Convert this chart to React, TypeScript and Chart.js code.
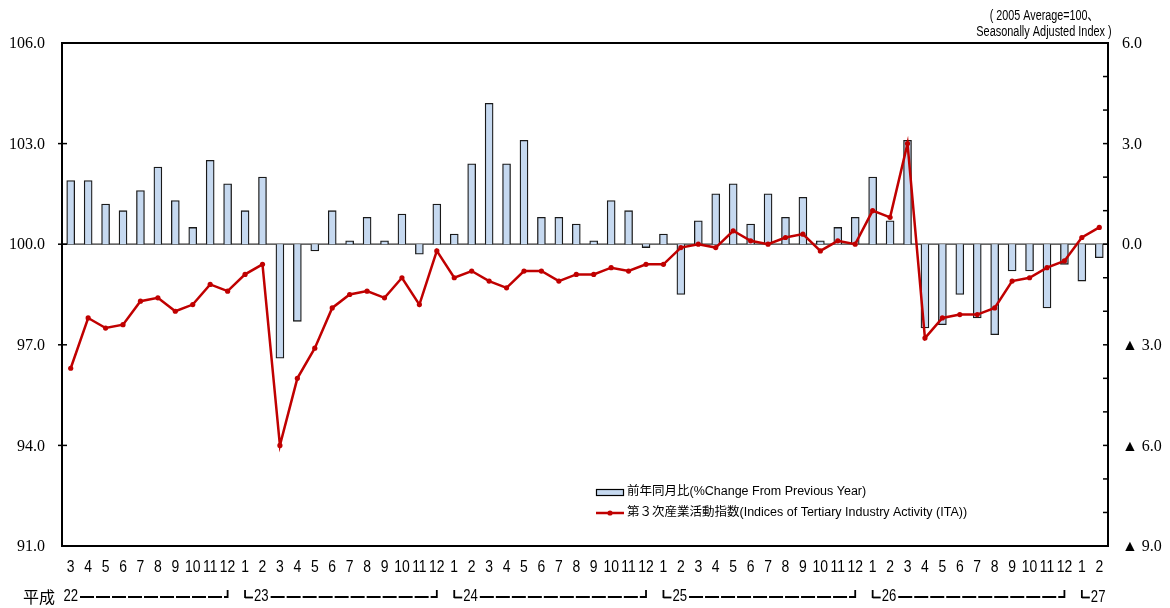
import React, { useEffect, useRef } from "react";
import { Chart, registerables } from "chart.js";

Chart.register(...registerables);

// ---- data ----
const months = [
  "3", "4", "5", "6", "7", "8", "9", "10", "11", "12",
  "1", "2", "3", "4", "5", "6", "7", "8", "9", "10", "11", "12",
  "1", "2", "3", "4", "5", "6", "7", "8", "9", "10", "11", "12",
  "1", "2", "3", "4", "5", "6", "7", "8", "9", "10", "11", "12",
  "1", "2", "3", "4", "5", "6", "7", "8", "9", "10", "11", "12",
  "1", "2",
];
const years = ["22", "23", "24", "25", "26", "27"];
const eraLabel = "平成";

// 前年同月比 (%), right axis
const yoyChange = [
  1.9, 1.9, 1.2, 1.0, 1.6, 2.3, 1.3, 0.5, 2.5, 1.8,
  1.0, 2.0, -3.4, -2.3, -0.2, 1.0, 0.1, 0.8, 0.1, 0.9, -0.3, 1.2,
  0.3, 2.4, 4.2, 2.4, 3.1, 0.8, 0.8, 0.6, 0.1, 1.3, 1.0, -0.1,
  0.3, -1.5, 0.7, 1.5, 1.8, 0.6, 1.5, 0.8, 1.4, 0.1, 0.5, 0.8,
  2.0, 0.7, 3.1, -2.5, -2.4, -1.5, -2.2, -2.7, -0.8, -0.8, -1.9, -0.6,
  -1.1, -0.4,
];

// 第3次産業活動指数, left axis
const itaIndex = [
  96.3, 97.8, 97.5, 97.6, 98.3, 98.4, 98.0, 98.2, 98.8, 98.6,
  99.1, 99.4, 94.0, 96.0, 96.9, 98.1, 98.5, 98.6, 98.4, 99.0, 98.2, 99.8,
  99.0, 99.2, 98.9, 98.7, 99.2, 99.2, 98.9, 99.1, 99.1, 99.3, 99.2, 99.4,
  99.4, 99.9, 100.0, 99.9, 100.4, 100.1, 100.0, 100.2, 100.3, 99.8, 100.1, 100.0,
  101.0, 100.8, 103.0, 97.2, 97.8, 97.9, 97.9, 98.1, 98.9, 99.0, 99.3, 99.5,
  100.2, 100.5,
];

const leftTicks = [91, 94, 97, 100, 103, 106];
const rightTicks = [6, 3, 0, -3, -6, -9];

const legendLabels = [
  "前年同月比(%Change From Previous Year)",
  "第３次産業活動指数(Indices of Tertiary Industry Activity (ITA))",
];
const titleLines = ["( 2005 Average=100、", "Seasonally Adjusted Index )"];

// ---- styles ----
const SANS = '"Liberation Sans", Arial, "Noto Sans CJK JP", sans-serif';
const SERIF = '"Liberation Serif", "Times New Roman", "DejaVu Serif", serif';
const CJK = '"Noto Sans CJK JP", sans-serif';
const BAR_FILL = "#C6D9F0";
const RED = "#C00000";

function narrowText(ctx: CanvasRenderingContext2D, t: string, x: number, y: number, sx = 0.82) {
  ctx.save();
  ctx.translate(x, y);
  ctx.scale(sx, 1);
  ctx.fillText(t, 0, 0);
  ctx.restore();
}

function seg(ctx: CanvasRenderingContext2D, x1: number, y1: number, x2: number, y2: number) {
  ctx.beginPath();
  ctx.moveTo(x1, y1);
  ctx.lineTo(x2, y2);
  ctx.stroke();
}

const decorPlugin = {
  id: "decor",
  beforeDatasetsDraw(chart: any) {
    const { ctx, chartArea } = chart;
    const y0 = chart.scales.y1.getPixelForValue(0);
    ctx.save();
    ctx.strokeStyle = "#333";
    ctx.lineWidth = 1.2;
    seg(ctx, chartArea.left, y0, chartArea.right, y0);
    ctx.restore();
  },
  afterDraw(chart: any) {
    const { ctx, chartArea } = chart;
    const { left, right, top, bottom } = chartArea;
    const ys = chart.scales.y;
    const yr = chart.scales.y1;
    const xs = chart.scales.x;
    ctx.save();

    // frame
    ctx.strokeStyle = "#000";
    ctx.lineWidth = 2;
    ctx.strokeRect(left, top, right - left, bottom - top);

    // left ticks (crossing axis)
    ctx.lineWidth = 1.5;
    leftTicks.forEach((v) => {
      const y = ys.getPixelForValue(v);
      if (v > ys.min && v < ys.max) seg(ctx, left - 4, y, left + 5, y);
    });
    // right ticks (inward, every unit)
    for (let v = Math.ceil(yr.min) + 1; v < yr.max; v++) {
      const y = yr.getPixelForValue(v);
      seg(ctx, right - 5, y, right, y);
    }

    // left labels
    ctx.fillStyle = "#000";
    ctx.font = `16px ${SERIF}`;
    ctx.textBaseline = "middle";
    ctx.textAlign = "right";
    leftTicks.forEach((v) => {
      ctx.fillText(v.toFixed(1), 45, ys.getPixelForValue(v) + 1);
    });
    // right labels
    ctx.textAlign = "left";
    rightTicks.forEach((v) => {
      const t = v < 0 ? "▲ " + Math.abs(v).toFixed(1) : v.toFixed(1);
      ctx.fillText(t, 1122, yr.getPixelForValue(v) + 1);
    });

    // month labels
    ctx.font = `17px ${SANS}`;
    ctx.textAlign = "center";
    months.forEach((m, i) => {
      narrowText(ctx, m, xs.getPixelForValue(i), 567);
    });

    // year row
    const groups: { start: number; end: number }[] = [];
    months.forEach((m, i) => {
      if (i === 0 || m === "1") groups.push({ start: i, end: i });
      else groups[groups.length - 1].end = i;
    });
    const yy = 597;
    ctx.font = `16px ${CJK}`;
    ctx.textAlign = "left";
    ctx.fillText(eraLabel, 23, yy);
    ctx.font = `16px ${SANS}`;
    ctx.lineWidth = 1.8;
    groups.forEach((g, gi) => {
      const xStart = xs.getPixelForValue(g.start);
      const xEnd = xs.getPixelForValue(g.end);
      const label = years[gi];
      const w = ctx.measureText(label).width * 0.82;
      let tx: number;
      if (gi === 0) {
        tx = xStart - w / 2;
      } else {
        seg(ctx, xStart, yy - 7, xStart, yy + 1);
        seg(ctx, xStart, yy + 0.5, xStart + 8, yy + 0.5);
        tx = xStart + 9;
      }
      ctx.textAlign = "left";
      narrowText(ctx, label, tx, yy + (gi === groups.length - 1 ? 1 : 0));
      const dashFrom = tx + w + 2;
      if (gi < groups.length - 1) {
        ctx.save();
        ctx.setLineDash([14, 2]);
        seg(ctx, dashFrom, yy, xEnd, yy);
        ctx.restore();
        seg(ctx, xEnd, yy + 1, xEnd, yy - 7);
      }
    });

    // title (units)
    ctx.font = `14px ${SANS}`;
    ctx.textAlign = "center";
    narrowText(ctx, titleLines[0], 1044, 16, 0.77);
    narrowText(ctx, titleLines[1], 1044, 32, 0.78);

    // legend
    ctx.textAlign = "left";
    ctx.font = `12.5px ${SANS}`;
    ctx.fillStyle = BAR_FILL;
    ctx.fillRect(596.5, 489.5, 27, 6);
    ctx.strokeStyle = "#000";
    ctx.lineWidth = 1.2;
    ctx.strokeRect(596.5, 489.5, 27, 6);
    ctx.fillStyle = "#000";
    ctx.fillText(legendLabels[0], 627, 492);
    ctx.strokeStyle = RED;
    ctx.lineWidth = 2.5;
    seg(ctx, 596, 513, 624, 513);
    ctx.fillStyle = RED;
    ctx.beginPath();
    ctx.arc(610, 513, 2.6, 0, Math.PI * 2);
    ctx.fill();
    ctx.fillStyle = "#000";
    ctx.fillText(legendLabels[1], 627, 513);

    ctx.restore();
  },
};

export default function App() {
  const ref = useRef<HTMLCanvasElement>(null);
  useEffect(() => {
    const chart = new Chart(ref.current as HTMLCanvasElement, {
      type: "bar",
      data: {
        labels: months,
        datasets: [
          {
            type: "line",
            label: legendLabels[1],
            data: itaIndex,
            yAxisID: "y",
            borderColor: RED,
            backgroundColor: RED,
            borderWidth: 2.5,
            pointRadius: 2.6,
            pointBorderWidth: 0,
            pointBackgroundColor: RED,
            tension: 0,
            order: 0,
          } as any,
          {
            type: "bar",
            label: legendLabels[0],
            data: yoyChange,
            yAxisID: "y1",
            backgroundColor: BAR_FILL,
            borderColor: "#1a1a1a",
            borderWidth: 1.3,
            barThickness: 8,
            order: 1,
          } as any,
        ],
      },
      options: {
        responsive: false,
        animation: false,
        events: [],
        layout: { padding: { top: 43, left: 0, right: 0, bottom: 0 } },
        plugins: { legend: { display: false }, tooltip: { enabled: false } },
        scales: {
          x: {
            ticks: { display: false },
            grid: { display: false },
            border: { display: false },
            afterFit: (s: any) => { s.height = 62; },
          },
          y: {
            position: "left",
            min: 91,
            max: 106,
            ticks: { display: false, stepSize: 3 },
            grid: { display: false },
            border: { display: false },
            afterFit: (s: any) => { s.width = 62; },
          },
          y1: {
            position: "right",
            min: -9,
            max: 6,
            ticks: { display: false, stepSize: 1 },
            grid: { display: false },
            border: { display: false },
            afterFit: (s: any) => { s.width = 62; },
          },
        } as any,
      },
      plugins: [decorPlugin],
    });
    return () => chart.destroy();
  }, []);
  return (
    <div style={{ position: "absolute", left: 0, top: 0, width: 1170, height: 608, background: "#fff" }}>
      <canvas ref={ref} width={1170} height={608} style={{ display: "block", width: 1170, height: 608 }} />
    </div>
  );
}
